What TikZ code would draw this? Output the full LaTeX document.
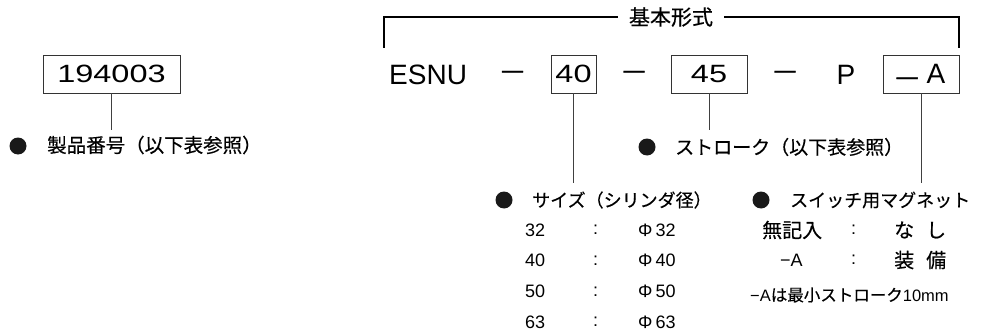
\documentclass[tikz,border=0pt]{standalone}
\usepackage{fontspec}
\setmainfont{Liberation Sans}
\newfontfamily\jpfont[FakeBold=0.4]{Noto Sans CJK JP}
\newfontfamily\widefont[FakeStretch=1.3]{Liberation Sans}
\newfontfamily\dashfont[FakeBold=2]{Liberation Sans}
\usetikzlibrary{positioning}

\begin{document}
\begin{tikzpicture}[x=1pt,y=-1pt,codebox/.style={draw=black!80, line width=0.8pt, minimum height=38pt, inner sep=0pt, font=\widefont\fontsize{25}{25}\selectfont},sep/.style={inner sep=0pt, font=\dashfont\fontsize{21}{21}\selectfont},leader/.style={draw=black!75, line width=0.8pt},bracket/.style={line width=1.6pt},dot/.style={circle, fill=black!90, inner sep=0pt, minimum size=17pt},item/.style={anchor=west, inner sep=0pt, font=\jpfont\fontsize{18}{18}\selectfont},cell/.style={anchor=west, inner sep=0pt, font=\fontsize{18}{18}\selectfont},jcell/.style={anchor=west, inner sep=0pt, font=\jpfont\fontsize{20}{20}\selectfont}]
\useasboundingbox (0,0) rectangle (984,334);
% product number
\node[codebox, minimum width=137pt] (prodno) at (111.5,74) {194003};
\coordinate (prodend) at (111.5,130);
\draw[leader] (prodno) -- (prodend);
\node[dot] (proddot) at (18,146) {};
\node[item, font=\jpfont\fontsize{19.5}{19.5}\selectfont] (prodlbl) at (47,145) {製品番号（以下表参照）};
% basic type code
\node[anchor=west, inner sep=0pt, font=\fontsize{28}{28}\selectfont] (series) at (389,75) {ESNU};
\node[sep] (dash1) at (512.5,74) {—};
\node[codebox, minimum width=45pt] (bore) at (573.5,74) {40};
\node[sep] (dash2) at (634,74) {—};
\node[codebox, minimum width=76pt] (stroke) at (709,74) {45};
\node[sep] (dash3) at (785,74) {—};
\node[inner sep=0pt, font=\fontsize{28}{28}\selectfont] (port) at (846,75) {P};
\node[codebox, minimum width=76pt, font=\fontsize{28}{28}\selectfont] (magnet) at (921,74) {{\dashfont\fontsize{21}{21}\selectfont —}\hspace{9pt}A};
% bracket
\node[inner xsep=11pt, inner ysep=0pt, font=\jpfont\fontsize{21}{21}\selectfont] (title) at (671,17) {基本形式};
\coordinate (brL) at (384,48); \coordinate (brR) at (959,48);
\draw[bracket] (brL) |- (title.west);
\draw[bracket] (title.east) -| (brR);
% leaders
\coordinate (boreend) at (573.5,183); \coordinate (strokeend) at (709,130); \coordinate (magnetend) at (921,183);
\draw[leader] (bore) -- (boreend);
\draw[leader] (stroke) -- (strokeend);
\draw[leader] (magnet) -- (magnetend);
% size
\node[dot] (boredot) at (504,200) {};
\node[item] (borelbl) at (532,200) {サイズ（シリンダ径）};
\foreach \d [count=\i] in {32,40,50,63} {
  \node[cell] (size\d) at (525,{230+30.7*(\i-1)}) {\d};
  \node[cell] (colon\d) at (593,{230+30.7*(\i-1)}) {:};
  \node[cell] (phi\d) at (638,{230+30.7*(\i-1)}) {Φ\,\d};
}
% stroke
\node[dot] (strokedot) at (647,147) {};
\node[item, font=\jpfont\fontsize{19}{19}\selectfont] (strokelbl) at (675,147) {ストローク（以下表参照）};
% switch magnet
\node[dot] (magnetdot) at (761,200) {};
\node[item] (magnetlbl) at (790,200) {スイッチ用マグネット};
\node[jcell] (none) at (762,230) {無記入};
\node[cell] (colonN) at (851,230) {:};
\node[jcell] (noneval) at (894,230) {な\hspace{12pt}し};
\node[cell] (withA) at (780,260) {−A};
\node[cell] (colonA) at (851,260) {:};
\node[jcell] (withval) at (894,260) {装\hspace{12pt}備};
\node[anchor=west, inner sep=0pt, font=\jpfont\fontsize{16.5}{16.5}\selectfont] (note) at (750,295) {{\rmfamily −A}は最小ストローク{\rmfamily 10mm}};
\end{tikzpicture}
\end{document}
